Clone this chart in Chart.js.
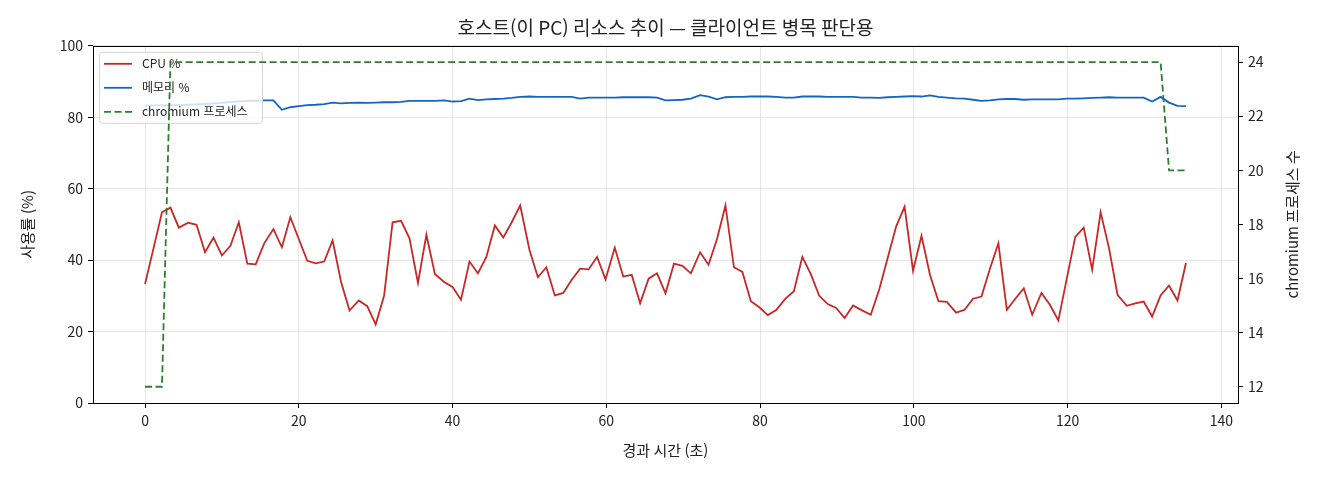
<!DOCTYPE html>
<html lang="ko">
<head>
<meta charset="utf-8">
<title>호스트 리소스 추이</title>
<script src="https://cdn.jsdelivr.net/npm/chart.js@4.4.1/dist/chart.umd.min.js"></script>
<style>
  html, body { margin: 0; padding: 0; background: #fff; }
  #wrap { width: 1320px; height: 480px; }
</style>
</head>
<body>
<div id="wrap"><canvas id="host-chart" width="1320" height="480"></canvas></div>
<script>
// 경과 시간 (초)
const times = [
    0.0, 1.1, 2.2, 3.3, 4.4, 5.6, 6.7, 7.8, 8.9, 10.0,
    11.1, 12.2, 13.3, 14.4, 15.5, 16.7, 17.8, 18.9, 20.0, 21.1,
    22.2, 23.3, 24.4, 25.5, 26.6, 27.8, 28.9, 30.0, 31.1, 32.2,
    33.3, 34.4, 35.5, 36.6, 37.7, 38.9, 40.0, 41.1, 42.2, 43.3,
    44.4, 45.5, 46.6, 47.7, 48.8, 50.0, 51.1, 52.2, 53.3, 54.4,
    55.5, 56.6, 57.7, 58.8, 59.9, 61.1, 62.2, 63.3, 64.4, 65.5,
    66.6, 67.7, 68.8, 69.9, 71.0, 72.2, 73.3, 74.4, 75.5, 76.6,
    77.7, 78.8, 79.9, 81.0, 82.1, 83.3, 84.4, 85.5, 86.6, 87.7,
    88.8, 89.9, 91.0, 92.1, 93.2, 94.4, 95.5, 96.6, 97.7, 98.8,
    99.9, 101.0, 102.1, 103.2, 104.3, 105.5, 106.6, 107.7, 108.8, 109.9,
    111.0, 112.1, 113.2, 114.3, 115.4, 116.6, 117.7, 118.8, 119.9, 121.0,
    122.1, 123.2, 124.3, 125.4, 126.5, 127.7, 128.8, 129.9, 131.0, 132.1,
    133.2, 134.3, 135.4
];

const cpuPct = [
    33.3, 43.3, 53.4, 54.7, 49.1, 50.5, 49.9, 42.2, 46.3, 41.3,
    44.0, 50.6, 39.0, 38.8, 44.7, 48.7, 43.6, 52.0, 45.9, 39.8,
    39.1, 39.6, 45.5, 33.9, 25.9, 28.7, 27.1, 22.0, 30.1, 50.6,
    51.0, 46.1, 33.6, 47.1, 36.1, 33.9, 32.5, 28.9, 39.6, 36.3,
    40.9, 49.7, 46.3, 50.6, 55.3, 42.9, 35.2, 38.0, 30.1, 30.8,
    34.5, 37.6, 37.4, 40.9, 34.6, 43.5, 35.4, 35.9, 27.9, 34.8,
    36.3, 30.7, 39.0, 38.4, 36.3, 42.2, 38.7, 45.9, 55.3, 38.0,
    36.7, 28.5, 26.8, 24.6, 26.0, 29.2, 31.3, 40.9, 36.1, 30.0,
    27.7, 26.6, 23.8, 27.3, 26.0, 24.7, 31.8, 40.6, 49.4, 55.0,
    37.0, 46.8, 35.9, 28.5, 28.3, 25.3, 26.1, 29.2, 29.8, 37.6,
    44.7, 26.1, 29.2, 32.1, 24.7, 30.8, 27.5, 23.1, 34.8, 46.5,
    49.1, 37.3, 53.4, 43.3, 30.3, 27.2, 27.9, 28.4, 24.2, 30.1,
    32.9, 28.7, 39.2
];

const memPct = [
    83.2, 83.3, 83.3, 83.4, 83.4, 83.5, 83.6, 83.7, 83.9, 84.0,
    84.3, 84.4, 84.6, 84.6, 84.7, 84.7, 82.1, 82.8, 83.1, 83.4,
    83.5, 83.7, 84.1, 83.9, 84.0, 84.1, 84.0, 84.1, 84.2, 84.2,
    84.3, 84.6, 84.6, 84.6, 84.6, 84.7, 84.4, 84.5, 85.2, 84.8,
    85.0, 85.1, 85.2, 85.4, 85.7, 85.8, 85.7, 85.7, 85.7, 85.7,
    85.7, 85.2, 85.5, 85.5, 85.5, 85.5, 85.6, 85.6, 85.6, 85.6,
    85.5, 84.7, 84.8, 84.9, 85.2, 86.2, 85.8, 85.0, 85.6, 85.7,
    85.7, 85.8, 85.8, 85.8, 85.7, 85.5, 85.5, 85.8, 85.8, 85.8,
    85.7, 85.7, 85.7, 85.7, 85.5, 85.5, 85.4, 85.6, 85.7, 85.8,
    85.9, 85.8, 86.1, 85.7, 85.5, 85.3, 85.2, 84.9, 84.6, 84.7,
    85.0, 85.1, 85.1, 84.9, 85.0, 85.0, 85.0, 85.0, 85.2, 85.2,
    85.3, 85.4, 85.5, 85.6, 85.5, 85.5, 85.5, 85.5, 84.4, 85.7,
    84.1, 83.2, 83.1
];

const chromiumProcs = [
    12, 12, 12, 24, 24, 24, 24, 24, 24, 24,
    24, 24, 24, 24, 24, 24, 24, 24, 24, 24,
    24, 24, 24, 24, 24, 24, 24, 24, 24, 24,
    24, 24, 24, 24, 24, 24, 24, 24, 24, 24,
    24, 24, 24, 24, 24, 24, 24, 24, 24, 24,
    24, 24, 24, 24, 24, 24, 24, 24, 24, 24,
    24, 24, 24, 24, 24, 24, 24, 24, 24, 24,
    24, 24, 24, 24, 24, 24, 24, 24, 24, 24,
    24, 24, 24, 24, 24, 24, 24, 24, 24, 24,
    24, 24, 24, 24, 24, 24, 24, 24, 24, 24,
    24, 24, 24, 24, 24, 24, 24, 24, 24, 24,
    24, 24, 24, 24, 24, 24, 24, 24, 24, 24,
    20, 20, 20
];

const xTicks = [0, 20, 40, 60, 80, 100, 120, 140];
const pctTicks = [0, 20, 40, 60, 80, 100];
const procTicks = [12, 14, 16, 18, 20, 22, 24];

const titleText = "호스트(이 PC) 리소스 추이 — 클라이언트 병목 판단용";
const xLabel = "경과 시간 (초)";
const leftLabel = "사용률 (%)";
const rightLabel = "chromium 프로세스 수";

const FONT = "'Noto Sans CJK KR', 'Noto Sans', sans-serif";
const TEXT = "#222";
const GRID = "#e6e6e6";

Chart.defaults.font.family = FONT;
Chart.defaults.color = TEXT;

const toPoints = vals => times.map((t, i) => ({ x: t, y: vals[i] }));
const fixTicks = list => scale => { scale.ticks = list.map(v => ({ value: v })); };

// 범례 (오른쪽 축 선보다 먼저 그림)
const legendBox = {
    id: "legendBox",
    beforeDatasetDraw(chart, args) {
        if (args.index !== 2) return;
        const { ctx, chartArea } = chart;
        const x = chartArea.left + 6, y = chartArea.top + 6, w = 163, h = 71;
        ctx.save();
        ctx.beginPath();
        ctx.roundRect(x + 0.5, y + 0.5, w, h, 3);
        ctx.fillStyle = "rgba(255,255,255,0.8)";
        ctx.fill();
        ctx.strokeStyle = "#d4d4d4";
        ctx.lineWidth = 1;
        ctx.stroke();
        chart.data.datasets.forEach((ds, i) => {
            const ry = y + 12 + i * 24;
            ctx.beginPath();
            ctx.setLineDash(ds.borderDash || []);
            ctx.strokeStyle = ds.borderColor;
            ctx.lineWidth = ds.borderWidth;
            ctx.moveTo(x + 5, ry);
            ctx.lineTo(x + 33, ry);
            ctx.stroke();
            ctx.setLineDash([]);
            ctx.fillStyle = TEXT;
            ctx.font = "12px " + FONT;
            ctx.textBaseline = "middle";
            ctx.fillText(ds.label, x + 43, ry);
        });
        ctx.restore();
    }
};

// 테두리 + 오른쪽 축 제목
const frame = {
    id: "frame",
    afterDatasetsDraw(chart) {
        const { ctx, chartArea: a } = chart;
        ctx.save();
        ctx.strokeStyle = "#000";
        ctx.lineWidth = 1;
        ctx.strokeRect(Math.round(a.left) + 0.5, Math.round(a.top) + 0.5,
            Math.round(a.right - a.left), Math.round(a.bottom - a.top));
        ctx.translate(1292, (a.top + a.bottom) / 2);
        ctx.rotate(-Math.PI / 2);
        ctx.fillStyle = TEXT;
        ctx.font = "15px " + FONT;
        ctx.textAlign = "center";
        ctx.textBaseline = "middle";
        ctx.fillText(rightLabel, 0, 0);
        ctx.restore();
    }
};

new Chart(document.getElementById("host-chart"), {
    type: "line",
    data: {
        datasets: [
            {
                label: "CPU %",
                data: toPoints(cpuPct),
                yAxisID: "y",
                borderColor: "#c62828",
                borderWidth: 1.8,
                order: 2
            },
            {
                label: "메모리 %",
                data: toPoints(memPct),
                yAxisID: "y",
                borderColor: "#1565c0",
                borderWidth: 1.8,
                order: 1
            },
            {
                label: "chromium 프로세스",
                data: toPoints(chromiumProcs),
                yAxisID: "y1",
                borderColor: "#2e7d32",
                borderWidth: 1.8,
                borderDash: [7, 3.5],
                order: 0
            }
        ]
    },
    options: {
        responsive: false,
        animation: false,
        parsing: false,
        elements: { point: { radius: 0 }, line: { tension: 0, fill: false } },
        layout: { padding: 0 },
        plugins: {
            legend: { display: false },
            tooltip: { enabled: false },
            title: {
                display: true,
                text: titleText,
                fullSize: false,
                color: TEXT,
                font: { size: 19, weight: "normal" },
                padding: { top: 16, bottom: 7 }
            }
        },
        scales: {
            x: {
                type: "linear",
                min: -6.77,
                max: 142.17,
                afterBuildTicks: fixTicks(xTicks),
                afterFit: s => { s.height = 77; },
                grid: { color: GRID, tickColor: "#000", tickLength: 5 },
                border: { display: false },
                ticks: { font: { size: 14 }, color: TEXT, padding: 4, maxRotation: 0 },
                title: { display: true, text: xLabel, font: { size: 15 }, color: TEXT, padding: { top: 0, bottom: 21 } }
            },
            y: {
                position: "left",
                min: 0,
                max: 100,
                afterBuildTicks: fixTicks(pctTicks),
                afterFit: s => { s.width = 93; },
                grid: { color: GRID, tickColor: "#000", tickLength: 5 },
                border: { display: false },
                ticks: { font: { size: 14 }, color: TEXT, padding: 5 },
                title: { display: true, text: leftLabel, font: { size: 15 }, color: TEXT, padding: { top: 18, bottom: 0 } }
            },
            y1: {
                position: "right",
                min: 11.4,
                max: 24.6,
                afterBuildTicks: fixTicks(procTicks),
                afterFit: s => { s.width = 82; },
                grid: { drawOnChartArea: false, tickColor: "#000", tickLength: 5 },
                border: { display: false },
                ticks: { font: { size: 14 }, color: TEXT, padding: 5 }
            }
        }
    },
    plugins: [legendBox, frame]
});
</script>
</body>
</html>
